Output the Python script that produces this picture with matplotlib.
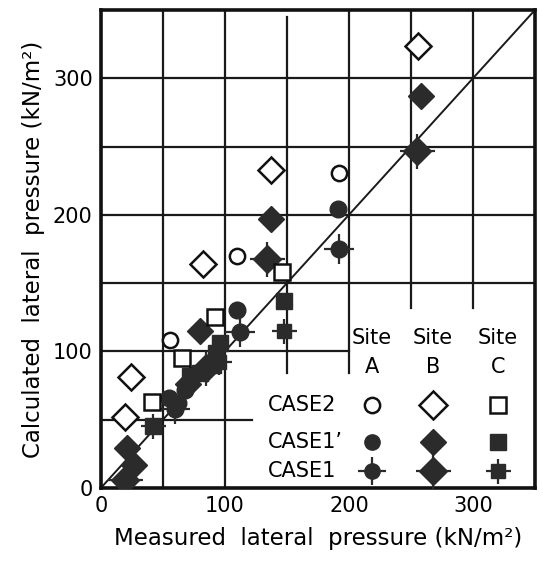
import numpy as np
import matplotlib
matplotlib.use("Agg")
import matplotlib.pyplot as plt

plt.rcParams['font.family'] = ['DejaVu Sans']

# measured (x) / calculated (y) lateral pressure, kN/m2
case2_A_x = [192, 110, 56]
case2_A_y = [231, 170, 108]
case2_B_x = [256, 137, 82, 24, 19]
case2_B_y = [324, 233, 164, 81, 52]
case2_C_x = [146, 92, 65, 41]
case2_C_y = [158, 125, 95, 63]

case1p_A_x = [191, 110, 55, 62, 68]
case1p_A_y = [204, 130, 66, 62, 72]
case1p_B_x = [258, 137, 80, 70, 21, 27]
case1p_B_y = [287, 197, 115, 76, 29, 17]
case1p_C_x = [148, 93, 90, 72, 80, 42, 96]
case1p_C_y = [137, 99, 90, 82, 84, 45, 106]

case1_A_x = [192, 112, 60]
case1_A_y = [175, 114, 58]
case1_B_x = [255, 134, 85, 19]
case1_B_y = [247, 168, 88, 6]
case1_C_x = [148, 95, 42]
case1_C_y = [115, 92, 45]

ticks = [0, 100, 200, 300]
lim = 350

# grid segments drawn only where the original has them
vgrid = [(50, 0, 350), (100, 0, 350), (150, 84, 345), (200, 84, 350), (250, 132, 350), (300, 132, 350)]
hgrid = [(50, 0, 122), (100, 0, 200), (150, 0, 350), (200, 0, 350), (250, 0, 350), (300, 0, 350)]

fig = plt.figure(figsize=(5.43, 5.62), dpi=100)
ax = fig.add_axes([0.186, 0.132, 0.799, 0.850])
ax.set_xlim(0, lim)
ax.set_ylim(0, lim)

for x, y0, y1 in vgrid:
    ax.plot([x, x], [y0, y1], color='#1a1a1a', lw=1.6, zorder=1)
for y, x0, x1 in hgrid:
    ax.plot([x0, x1], [y, y], color='#1a1a1a', lw=1.6, zorder=1)
ax.plot([0, lim], [0, lim], color='#1a1a1a', lw=1.4, zorder=1)

dark = '#2b2b2b'


def crossed(xs, ys, marker, ms, ax=ax, **kw):
    ax.plot(xs, ys, ls='none', marker='+', ms=ms * 1.8, mew=1.6, color=dark, zorder=3, **kw)
    ax.plot(xs, ys, ls='none', marker=marker, ms=ms, color=dark, mec=dark, zorder=3, **kw)


def filled(xs, ys, marker, ms, ax=ax, **kw):
    ax.plot(xs, ys, ls='none', marker=marker, ms=ms, color=dark, mec=dark, zorder=3, **kw)


def hollow(xs, ys, marker, ms, ax=ax, **kw):
    ax.plot(xs, ys, ls='none', marker=marker, ms=ms, mfc='white', mec='#111111', mew=1.8, zorder=4, **kw)


filled(case1p_A_x, case1p_A_y, 'o', 12)
filled(case1p_B_x, case1p_B_y, 'D', 13)
filled(case1p_C_x, case1p_C_y, 's', 11)
crossed(case1_A_x, case1_A_y, 'o', 12)
crossed(case1_B_x, case1_B_y, 'D', 14)
crossed(case1_C_x, case1_C_y, 's', 10)
hollow(case2_A_x, case2_A_y, 'o', 11)
hollow(case2_B_x, case2_B_y, 'D', 13)
hollow(case2_C_x, case2_C_y, 's', 12)

# hand-drawn legend table in the lower right corner
leg_x = [0.624, 0.765, 0.915]
for c, lab in zip(leg_x, ['A', 'B', 'C']):
    ax.text(c, 0.314, 'Site', transform=ax.transAxes, ha='center', va='center', fontsize=15)
    ax.text(c, 0.253, lab, transform=ax.transAxes, ha='center', va='center', fontsize=15)
rows = [('CASE2', 0.174), ("CASE1\u2019", 0.096), ('CASE1', 0.036)]
for name, ry in rows:
    ax.text(0.385, ry, name, transform=ax.transAxes, ha='left', va='center', fontsize=15)
hollow(leg_x[0], rows[0][1], 'o', 11, transform=ax.transAxes)
hollow(leg_x[1], rows[0][1], 'D', 14, transform=ax.transAxes)
hollow(leg_x[2], rows[0][1], 's', 12, transform=ax.transAxes)
filled(leg_x[0], rows[1][1], 'o', 11, transform=ax.transAxes)
filled(leg_x[1], rows[1][1], 'D', 13, transform=ax.transAxes)
filled(leg_x[2], rows[1][1], 's', 11, transform=ax.transAxes)
crossed(leg_x[0], rows[2][1], 'o', 11, transform=ax.transAxes)
crossed(leg_x[1], rows[2][1], 'D', 14, transform=ax.transAxes)
crossed(leg_x[2], rows[2][1], 's', 10, transform=ax.transAxes)

ax.set_xticks(ticks)
ax.set_yticks(ticks)
ax.tick_params(length=0, labelsize=15, pad=6)
for s in ax.spines.values():
    s.set_linewidth(2.6)
    s.set_color('#111111')

ax.set_xlabel('Measured  lateral  pressure (kN/m\u00b2)', fontsize=16.5, labelpad=8)
ax.set_ylabel('Calculated  lateral  pressure (kN/m\u00b2)', fontsize=16.5, labelpad=6)

fig.savefig('out.png', dpi=100)
